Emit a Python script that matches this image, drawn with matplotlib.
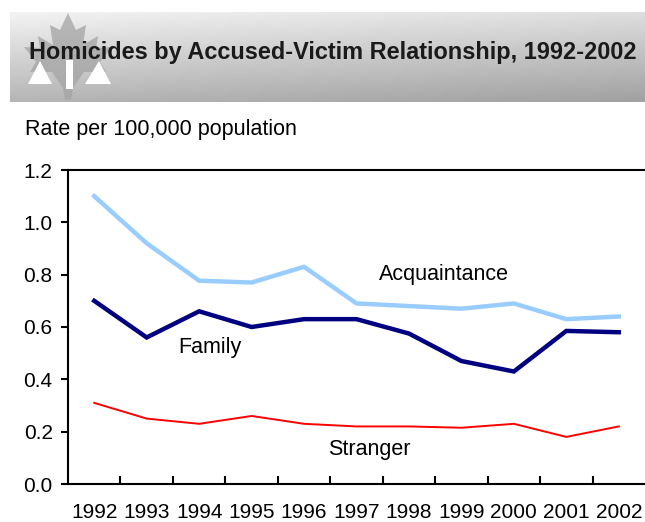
import numpy as np
import matplotlib
matplotlib.use("Agg")
import matplotlib.pyplot as plt
from matplotlib.patches import Polygon

plt.rcParams['font.family'] = ['Liberation Sans', 'DejaVu Sans']

# data
years = ['1992', '1993', '1994', '1995', '1996', '1997', '1998', '1999', '2000', '2001', '2002']
acquaintance = [1.10, 0.92, 0.777, 0.77, 0.83, 0.69, 0.68, 0.67, 0.69, 0.63, 0.64]
family = [0.70, 0.56, 0.66, 0.60, 0.63, 0.63, 0.575, 0.47, 0.43, 0.585, 0.58]
stranger = [0.31, 0.25, 0.23, 0.26, 0.23, 0.22, 0.22, 0.215, 0.23, 0.18, 0.22]
yticks = [0.0, 0.2, 0.4, 0.6, 0.8, 1.0, 1.2]

W, H = 645, 522
fig = plt.figure(figsize=(W / 100, H / 100), dpi=100)

# background layer in pixel coords for the banner
bg = fig.add_axes([0, 0, 1, 1], zorder=0)
bg.set_xlim(0, W)
bg.set_ylim(H, 0)
bg.axis('off')

# gray gradient banner
gx, gy = np.meshgrid(np.linspace(0, 1, 200), np.linspace(0, 1, 60))
shade = 0.95 - 0.24 * gy - 0.08 * gx
bg.imshow(shade, cmap='gray', vmin=0, vmax=1, extent=[10, W, 102, 12],
          aspect='auto', interpolation='bilinear')

# faint maple leaf
half = [(68, 13), (76, 30), (86, 25), (83, 45), (98, 36), (96, 48),
        (112, 47), (100, 62), (106, 72), (84, 72), (73, 88), (71, 100)]
leaf = half + [(136 - x, y) for x, y in reversed(half)]
bg.add_patch(Polygon(leaf, closed=True, facecolor='#a4a4a4', edgecolor='none', alpha=0.75))

# white triangles and bar
bg.add_patch(Polygon([(28, 84), (52, 84), (40, 61)], facecolor='white', edgecolor='none'))
bg.add_patch(Polygon([(85, 84), (111, 84), (99, 61)], facecolor='white', edgecolor='none'))
bg.add_patch(Polygon([(66, 60), (73, 60), (73, 89), (66, 89)], facecolor='white', edgecolor='none'))

bg.text(333, 53, 'Homicides by Accused-Victim Relationship, 1992-2002',
        fontsize=16.9, fontweight='bold', color='#1a1a1a', ha='center', va='center')
bg.text(25, 130, 'Rate per 100,000 population', fontsize=15.5, ha='left', va='center')

# main chart
ax = fig.add_axes([68 / W, 1 - 484 / H, 1 - 68 / W, (484 - 170) / H], zorder=1)
ax.patch.set_alpha(0)
x = np.arange(len(years))
ax.plot(x, acquaintance, color='#99ccff', lw=3.2, solid_joinstyle='miter')
ax.plot(x, family, color='#000080', lw=3.2, solid_joinstyle='miter')
ax.plot(x, stranger, color='#ff0000', lw=1.4)

ax.set_xlim(-0.5, len(years) - 0.5)
ax.set_ylim(0, 1.2)
ax.set_yticks(yticks)
ax.set_yticklabels([f'{v:.1f}' for v in yticks], fontsize=15)
ax.tick_params(axis='y', direction='out', length=5, width=1.5, pad=6)

ax.set_xticks(x)
ax.set_xticklabels(years, fontsize=15)
ax.tick_params(axis='x', length=0, pad=14)
ax.set_xticks(np.arange(0.5, len(years) - 1, 1), minor=True)
ax.tick_params(axis='x', which='minor', direction='in', length=6, width=1.5)

for side in ['left', 'bottom', 'top']:
    ax.spines[side].set_linewidth(1.5)
ax.spines['right'].set_visible(False)

ax.text(6.67, 0.80, 'Acquaintance', fontsize=15.5, ha='center', va='center')
ax.text(2.21, 0.52, 'Family', fontsize=15.5, ha='center', va='center')
ax.text(5.24, 0.13, 'Stranger', fontsize=15.5, ha='center', va='center')

fig.savefig('out.png', dpi=100)
